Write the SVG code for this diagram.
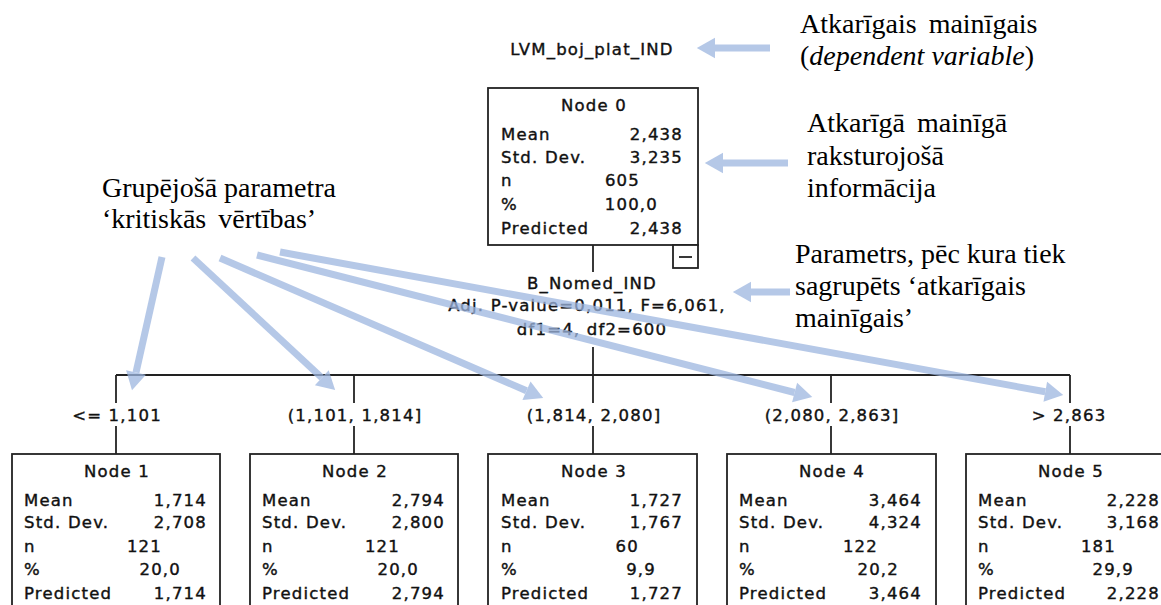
<svg xmlns="http://www.w3.org/2000/svg" width="1161" height="605" viewBox="0 0 1161 605">
<style>
.t{font-family:"DejaVu Sans",Verdana,sans-serif;font-size:16.5px;letter-spacing:1.2px;fill:#111;stroke:#111;stroke-width:0.4}
.m{text-anchor:middle}
.e{text-anchor:end}
.box{fill:#fff;stroke:#222;stroke-width:1.8}
.ln{stroke:#222;stroke-width:1.8;fill:none}
.ann{font-family:"Liberation Serif","Times New Roman",serif;font-size:28px;fill:#000}
.ws{word-spacing:5px}
.ar{stroke:#9db6e0;stroke-width:7;fill:none;marker-end:url(#ah)}
</style>
<defs>
<marker id="ah" markerWidth="2.6" markerHeight="2.9" refX="0" refY="1.45" orient="auto" overflow="visible">
<path d="M0,0 L2.6,1.45 L0,2.9 Z" fill="#9db6e0"/>
</marker>
</defs>
<rect width="1161" height="605" fill="#fff"/>

<g id="connectors">
<line class="ln" x1="593" y1="245" x2="593" y2="272"/>
<line class="ln" x1="593" y1="347" x2="593" y2="375"/>
<line class="ln" x1="116" y1="375" x2="1070" y2="375"/>
<line class="ln" x1="116" y1="375" x2="116" y2="403"/>
<line class="ln" x1="116" y1="426" x2="116" y2="454"/>
<line class="ln" x1="354" y1="375" x2="354" y2="403"/>
<line class="ln" x1="354" y1="426" x2="354" y2="454"/>
<line class="ln" x1="593" y1="375" x2="593" y2="403"/>
<line class="ln" x1="593" y1="426" x2="593" y2="454"/>
<line class="ln" x1="831" y1="375" x2="831" y2="403"/>
<line class="ln" x1="831" y1="426" x2="831" y2="454"/>
<line class="ln" x1="1070" y1="375" x2="1070" y2="403"/>
<line class="ln" x1="1070" y1="426" x2="1070" y2="454"/>
<text class="t m" x="117" y="421">&lt;= 1,101</text>
<text class="t m" x="355" y="421">(1,101, 1,814]</text>
<text class="t m" x="594" y="421">(1,814, 2,080]</text>
<text class="t m" x="832" y="421">(2,080, 2,863]</text>
<text class="t m" x="1069" y="421">&gt; 2,863</text>
</g>

<g id="dep-var">
<text class="t m" x="592" y="55">LVM_boj_plat_IND</text>
</g>

<g id="node0">
<rect class="box" x="488" y="88" width="210" height="157"/>
<text class="t m" x="594" y="111">Node 0</text>
<text class="t" x="501" y="140">Mean</text><text class="t e" x="683" y="140">2,438</text>
<text class="t" x="501" y="163">Std. Dev.</text><text class="t e" x="683" y="163">3,235</text>
<text class="t" x="501" y="186">n</text><text class="t e" x="640" y="186">605</text>
<text class="t" x="501" y="210">%</text><text class="t e" x="658" y="210">100,0</text>
<text class="t" x="501" y="234">Predicted</text><text class="t e" x="683" y="234">2,438</text>
<rect class="box" x="673" y="245" width="25" height="23"/>
<line class="ln" x1="679" y1="257" x2="692" y2="257"/>
</g>

<g id="split">
<text class="t m" x="592" y="289">B_Nomed_IND</text>
<text class="t m" x="587" y="311">Adj. P-value=0,011, F=6,061,</text>
<text class="t m" x="592" y="335">df1=4, df2=600</text>
</g>

<g id="node1">
<rect class="box" x="12" y="454" width="208" height="170"/>
<text class="t m" x="117" y="477">Node 1</text>
<text class="t" x="24" y="506">Mean</text><text class="t e" x="207" y="506">1,714</text>
<text class="t" x="24" y="528">Std. Dev.</text><text class="t e" x="207" y="528">2,708</text>
<text class="t" x="24" y="552">n</text><text class="t e" x="162" y="552">121</text>
<text class="t" x="24" y="575">%</text><text class="t e" x="181" y="575">20,0</text>
<text class="t" x="24" y="599">Predicted</text><text class="t e" x="207" y="599">1,714</text>
</g>

<g id="node2">
<rect class="box" x="250" y="454" width="208" height="170"/>
<text class="t m" x="355" y="477">Node 2</text>
<text class="t" x="262" y="506">Mean</text><text class="t e" x="445" y="506">2,794</text>
<text class="t" x="262" y="528">Std. Dev.</text><text class="t e" x="445" y="528">2,800</text>
<text class="t" x="262" y="552">n</text><text class="t e" x="400" y="552">121</text>
<text class="t" x="262" y="575">%</text><text class="t e" x="419" y="575">20,0</text>
<text class="t" x="262" y="599">Predicted</text><text class="t e" x="445" y="599">2,794</text>
</g>

<g id="node3">
<rect class="box" x="488" y="454" width="209" height="170"/>
<text class="t m" x="594" y="477">Node 3</text>
<text class="t" x="501" y="506">Mean</text><text class="t e" x="683" y="506">1,727</text>
<text class="t" x="501" y="528">Std. Dev.</text><text class="t e" x="683" y="528">1,767</text>
<text class="t" x="501" y="552">n</text><text class="t e" x="639" y="552">60</text>
<text class="t" x="501" y="575">%</text><text class="t e" x="656" y="575">9,9</text>
<text class="t" x="501" y="599">Predicted</text><text class="t e" x="683" y="599">1,727</text>
</g>

<g id="node4">
<rect class="box" x="727" y="454" width="209" height="170"/>
<text class="t m" x="832" y="477">Node 4</text>
<text class="t" x="739" y="506">Mean</text><text class="t e" x="922" y="506">3,464</text>
<text class="t" x="739" y="528">Std. Dev.</text><text class="t e" x="922" y="528">4,324</text>
<text class="t" x="739" y="552">n</text><text class="t e" x="878" y="552">122</text>
<text class="t" x="739" y="575">%</text><text class="t e" x="899" y="575">20,2</text>
<text class="t" x="739" y="599">Predicted</text><text class="t e" x="922" y="599">3,464</text>
</g>

<g id="node5">
<rect class="box" x="966" y="454" width="209" height="170"/>
<text class="t m" x="1071" y="477">Node 5</text>
<text class="t" x="978" y="506">Mean</text><text class="t e" x="1160" y="506">2,228</text>
<text class="t" x="978" y="528">Std. Dev.</text><text class="t e" x="1160" y="528">3,168</text>
<text class="t" x="978" y="552">n</text><text class="t e" x="1116" y="552">181</text>
<text class="t" x="978" y="575">%</text><text class="t e" x="1134" y="575">29,9</text>
<text class="t" x="978" y="599">Predicted</text><text class="t e" x="1160" y="599">2,228</text>
</g>

<g id="annotations">
<text class="ann ws" x="800" y="33">Atkarīgais mainīgais</text>
<text class="ann" x="800" y="65">(<tspan font-style="italic">dependent variable</tspan>)</text>
<text class="ann ws" x="807" y="132">Atkarīgā mainīgā</text>
<text class="ann" x="807" y="165">raksturojošā</text>
<text class="ann" x="807" y="197">informācija</text>
<text class="ann" x="102" y="197">Grupējošā parametra</text>
<text class="ann ws" x="102" y="228">‘kritiskās vērtības’</text>
<text class="ann" x="795" y="263">Parametrs, pēc kura tiek</text>
<text class="ann" x="795" y="295">sagrupēts ‘atkarīgais</text>
<text class="ann" x="795" y="327">mainīgais’</text>
</g>

<g id="annotation-arrows" opacity="0.75">
<line class="ar" x1="770" y1="48" x2="715" y2="48"/>
<line class="ar" x1="788" y1="163" x2="723" y2="163"/>
<line class="ar" x1="790" y1="292" x2="751" y2="292"/>
<line class="ar" x1="162" y1="257" x2="136" y2="372.4"/>
<line class="ar" x1="193" y1="258" x2="321.8" y2="377.7"/>
<line class="ar" x1="220" y1="258" x2="526.5" y2="390.8"/>
<line class="ar" x1="257" y1="255" x2="794.6" y2="392.5"/>
<line class="ar" x1="280" y1="252" x2="1045.3" y2="391.8"/>
</g>
</svg>
